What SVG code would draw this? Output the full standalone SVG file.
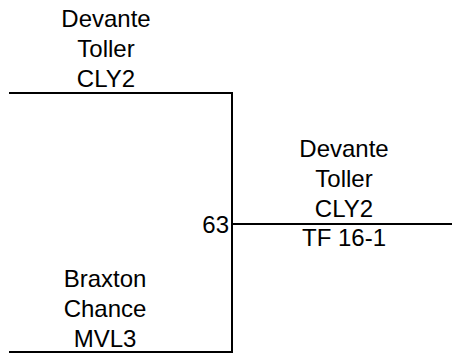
<svg xmlns="http://www.w3.org/2000/svg" width="452" height="354" viewBox="0 0 452 354">
<style>
text{font-family:"Liberation Sans",Arial,sans-serif;font-size:24px;fill:#000}
.c{text-anchor:middle}
.ln{stroke:#000;stroke-width:2;fill:none}
</style>
<rect width="452" height="354" fill="#fff"/>
<g id="connectors">
<path class="ln" d="M9,93H232V352H9"/>
<path class="ln" d="M232,224H452"/>
</g>
<g id="node-top">
<text class="c" x="106" y="27">Devante</text>
<text class="c" x="106" y="57">Toller</text>
<text class="c" x="106" y="87">CLY2</text>
</g>
<g id="node-bottom">
<text class="c" x="105" y="287">Braxton</text>
<text class="c" x="105" y="317">Chance</text>
<text class="c" x="105" y="347">MVL3</text>
</g>
<g id="node-winner">
<text class="c" x="344" y="157">Devante</text>
<text class="c" x="344" y="187">Toller</text>
<text class="c" x="344" y="217">CLY2</text>
<text class="c" x="344" y="246">TF 16-1</text>
</g>
<g id="score">
<text x="229" y="233" text-anchor="end">63</text>
</g>
</svg>
